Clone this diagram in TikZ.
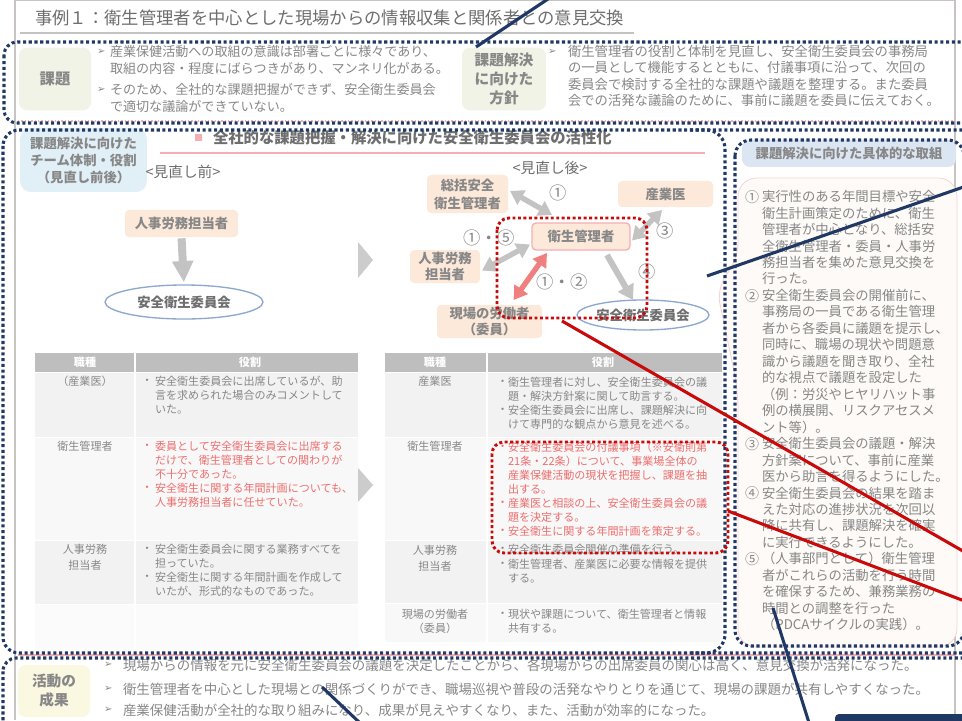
\documentclass[tikz,border=0pt]{standalone}
\usepackage{fontspec}
\setmainfont{Noto Sans CJK JP}
\newfontfamily\dvfont{DejaVu Sans}
\usetikzlibrary{arrows.meta,calc,shapes.geometric}
\definecolor{navy}{RGB}{31,56,100}
\definecolor{annred}{RGB}{200,10,10}
\definecolor{tgray}{RGB}{135,135,135}
\definecolor{dgray}{RGB}{110,110,110}
\definecolor{tred}{RGB}{238,110,110}
\definecolor{peach}{RGB}{252,233,218}
\definecolor{greenbox}{RGB}{240,243,230}
\definecolor{bluebox}{RGB}{225,239,246}
\definecolor{bluehead}{RGB}{220,230,242}
\definecolor{yellowbox}{RGB}{251,248,226}
\definecolor{agray}{RGB}{195,195,195}
\definecolor{apink}{RGB}{240,128,128}
\definecolor{ellstroke}{RGB}{140,168,208}
\definecolor{thead}{RGB}{190,190,190}
\definecolor{rowa}{RGB}{242,242,242}
\definecolor{rowb}{RGB}{248,248,248}
\definecolor{rowc}{RGB}{251,251,251}
\definecolor{pinkline}{RGB}{245,175,180}
\definecolor{panelfill}{RGB}{253,250,247}
\definecolor{panelline}{RGB}{248,210,210}
\definecolor{framec}{RGB}{200,195,195}
\newcommand\jsz[2]{\fontsize{#1}{#2}\selectfont}
\begin{document}
\begin{tikzpicture}[x=0.75pt,y=-0.75pt,
  every node/.style={inner sep=0pt,outer sep=0pt},
  txt/.style={text=tgray,align=left,anchor=north west},
  ndot/.style={navy,line width=2.3pt,dash pattern=on 2.3pt off 2pt},
  rdot/.style={annred,line width=2.2pt,dash pattern=on 2.2pt off 1.9pt},
  nline/.style={navy,line width=2.3pt},
  rline/.style={annred,line width=2.3pt},
  pbox/.style={fill=peach,rounded corners=3pt,text=tgray,font=\bfseries\jsz{10}{12},align=center},
  ell/.style={ellipse,draw=ellstroke,line width=1pt,fill=white,text=dgray,font=\bfseries\jsz{10}{12}},
  garrowd/.style={agray,line width=4pt,{Triangle[length=10pt,width=12pt]}-{Triangle[length=10pt,width=12pt]}},
  garrow/.style={agray,line width=4.5pt,-{Triangle[length=11pt,width=13pt]}},
  parrowd/.style={apink,line width=4pt,{Triangle[length=10pt,width=12pt]}-{Triangle[length=10pt,width=12pt]}},
  bul/.style={anchor=west,text=tgray,font=\jsz{8.3}{10}},
  rbul/.style={anchor=west,text=tred,font=\jsz{8.3}{10}},
  cell/.style={txt,font=\jsz{8.3}{10.5}},
  rcell/.style={txt,text=tred,font=\jsz{8.3}{10.5}},
  lab/.style={anchor=north,text=tgray,align=center,font=\jsz{8.3}{12}},
  arr/.style={anchor=west,text=tgray,font=\dvfont\jsz{7.5}{9}},
  num/.style={text=tgray,font=\jsz{13}{15}},
  pnum/.style={anchor=west,text=tgray,font=\jsz{10.5}{12}}
]
\useasboundingbox (0,0) rectangle (962,720);
\clip (0,0) rectangle (962,720);
\fill[white] (0,0) rectangle (962,720);
% slide frame
\draw[framec,line width=0.8pt] (15,0.5) -- (955,0.5);
\draw[framec,line width=0.8pt] (15,0) -- (15,720);
\draw[framec,line width=0.8pt] (955,0) -- (955,720);

% title
\node[anchor=west,text=dgray,font=\jsz{13}{15}] (title) at (35,18) {事例１：衛生管理者を中心とした現場からの情報収集と関係者との意見交換};
\draw[agray,line width=1.5pt] (20,33) -- (634,33);

% top band
\node[fill=greenbox,rounded corners=6pt,minimum width=54pt,minimum height=47pt,text=tgray,font=\bfseries\jsz{11.5}{13}] (kadai) at (55,79) {課題};
\node[arr] (ka1) at (97,52) {➢};
\node[txt,font=\jsz{9.8}{12.4}] (kt1) at (110,45.5) {産業保健活動への取組の意識は部署ごとに様々であり、\\取組の内容・程度にばらつきがあり、マンネリ化がある。};
\node[arr] (ka2) at (97,90) {➢};
\node[txt,font=\jsz{9.8}{12.4}] (kt2) at (110,83.5) {そのため、全社的な課題把握ができず、安全衛生委員会\\で適切な議論ができていない。};
\node[fill=greenbox,rounded corners=6pt,minimum width=63pt,minimum height=47pt,text=tgray,font=\bfseries\jsz{11}{13.9},align=center] (hoshin) at (504,79) {課題解決\\に向けた\\方針};
\node[arr] (ha1) at (548,52) {➢};
\node[txt,font=\jsz{10}{12.2}] (ht1) at (568,45.3) {衛生管理者の役割と体制を見直し、安全衛生委員会の事務局\\の一員として機能するとともに、付議事項に沿って、次回の\\委員会で検討する全社的な課題や議題を整理する。また委員\\会での活発な議論のために、事前に議題を委員に伝えておく。};
\draw[pinkline,line width=0.8pt,dash pattern=on 1pt off 1.5pt] (18,121) -- (955,121);

% middle: team label and heading
\node[fill=bluebox,rounded corners=8pt,minimum width=95pt,minimum height=48pt,text=tgray,font=\bfseries\jsz{10}{12.75},align=center] (team) at (83.5,160) {課題解決に向けた\\チーム体制・役割\\（見直し前後）};
\fill[pinkline] (194.5,134.5) rectangle (201.5,141.5);
\node[anchor=west,text=dgray,font=\bfseries\jsz{11.5}{13}] (heading) at (213,138) {全社的な課題把握・解決に向けた安全衛生委員会の活性化};
\draw[pinkline,line width=1.2pt] (160,153) -- (705,153);

% before diagram
\node[text=dgray,font=\jsz{11}{13}] (mae) at (183,172) {<見直し前>};
\node[pbox,minimum width=84.75pt,minimum height=20.25pt] (jinji0) at (181.5,223.5) {人事労務担当者};
\node[ell,minimum width=118.5pt,minimum height=25.5pt] (iinkai0) at (184,302) {安全衛生委員会};
\draw[agray,line width=6pt,-{Triangle[length=16pt,width=15pt]},shorten <=1pt,shorten >=2pt] (jinji0.south) -- (iinkai0.north);

% chevrons
\fill[agray!85] (358,242) -- (373,260) -- (358,278) -- cycle;
\fill[agray!85] (358,468) -- (373,485) -- (358,502) -- cycle;

% after diagram
\node[text=dgray,font=\jsz{11}{13}] (ato) at (550,168) {<見直し後>};
\node[pbox,minimum width=60.75pt,minimum height=28.5pt,font=\bfseries\jsz{10}{13.5}] (sokatsu) at (467.5,194) {総括安全\\衛生管理者};
\node[pbox,minimum width=71.25pt,minimum height=19.5pt] (sangyo) at (665.5,194) {産業医};
\node[pbox,draw=pinkline,line width=1pt,minimum width=73.5pt,minimum height=20.25pt] (eisei) at (581,236.5) {衛生管理者};
\node[pbox,minimum width=52.5pt,minimum height=24.75pt,font=\bfseries\jsz{10}{12}] (jinji) at (445,266.5) {人事労務\\担当者};
\node[pbox,minimum width=78.75pt,minimum height=24.75pt,font=\bfseries\jsz{10}{12}] (genba) at (489.5,321.5) {現場の労働者\\（委員）};
\node[ell,minimum width=96pt,minimum height=22.5pt] (iinkai) at (643,315) {安全衛生委員会};
\draw[garrowd] ($(sokatsu.east)+(2,-3)$) -- ($(eisei.north west)+(20,-8)$);
\draw[garrowd] ($(jinji.east)+(2,4)$) -- ($(eisei.west)+(-2,8)$);
\draw[garrowd] ($(eisei.east)+(2,4)$) -- ($(sangyo.south west)+(44,3)$);
\draw[garrow] ($(eisei.south east)+(-23,5)$) -- ($(iinkai.north)+(-10,0)$);
\draw[parrowd] ($(eisei.south west)+(15,3)$) -- ($(genba.north)+(24,-5)$);
\node[num] (n1) at (558,193) {①};
\node[num] (n15) at (489,238) {①・⑤};
\node[num] (n3) at (665,231) {③};
\node[num] (n4) at (647,272) {④};
\node[num] (n12) at (562,282) {①・②};

% left table
\fill[thead] (35,353) rectangle (358,372);
\fill[rowa] (35,373) rectangle (358,437);
\fill[rowb] (35,438) rectangle (358,540);
\fill[rowa] (35,541) rectangle (358,604);
\fill[rowc] (35,605) rectangle (358,650);
\draw[white,line width=1.2pt] (135,353) -- (135,650);
\node[text=white,font=\bfseries\jsz{8.3}{10}] (lh1) at (85,362.5) {職種};
\node[text=white,font=\bfseries\jsz{8.3}{10}] (lh2) at (250,362.5) {役割};
\node[lab] (ll1) at (85,376.5) {（産業医）};
\node[bul] (lb1) at (141.5,382) {・};
\node[cell] (lc1) at (155,376.5) {安全衛生委員会に出席しているが、助\\言を求められた場合のみコメントして\\いた。};
\node[lab] (ll2) at (85,441.5) {衛生管理者};
\node[rbul] (lb2) at (141.5,447) {・};
\node[rcell] (lc2) at (155,441.5) {委員として安全衛生委員会に出席する\\だけで、衛生管理者としての関わりが\\不十分であった。};
\node[rbul] (lb3) at (141.5,489) {・};
\node[rcell] (lc3) at (155,483.5) {安全衛生に関する年間計画についても、\\人事労務担当者に任せていた。};
\node[lab] (ll3) at (85,544.5) {人事労務\\担当者};
\node[bul] (lb4) at (141.5,550) {・};
\node[cell] (lc4) at (155,544.5) {安全衛生委員会に関する業務すべてを\\担っていた。};
\node[bul] (lb5) at (141.5,578) {・};
\node[cell] (lc5) at (155,572.5) {安全衛生に関する年間計画を作成して\\いたが、形式的なものであった。};

% right table
\fill[thead] (385,353) rectangle (722,372);
\fill[rowa] (385,373) rectangle (722,437);
\fill[rowb] (385,438) rectangle (722,540);
\fill[rowa] (385,541) rectangle (722,603);
\fill[rowb] (385,604) rectangle (722,642);
\draw[white,line width=1.2pt] (487,353) -- (487,642);
\node[text=white,font=\bfseries\jsz{8.3}{10}] (rh1) at (435,362.5) {職種};
\node[text=white,font=\bfseries\jsz{8.3}{10}] (rh2) at (603,362.5) {役割};
\node[lab] (rl1) at (435,376.5) {産業医};
\node[bul] (rb1) at (497,383) {・};
\node[cell] (rc1) at (508,377.5) {衛生管理者に対し、安全衛生委員会の議\\題・解決方針案に関して助言する。};
\node[bul] (rb2) at (497,411) {・};
\node[cell] (rc2) at (508,405.5) {安全衛生委員会に出席し、課題解決に向\\けて専門的な観点から意見を述べる。};
\node[lab] (rl2) at (435,441.5) {衛生管理者};
\node[rbul] (rb3) at (497,448) {・};
\node[rcell] (rc3) at (508,442.5) {安全衛生委員会の付議事項（※安衛則第\\21条・22条）について、事業場全体の\\産業保健活動の現状を把握し、課題を抽\\出する。};
\node[rbul] (rb4) at (497,504) {・};
\node[rcell] (rc4) at (508,498.5) {産業医と相談の上、安全衛生委員会の議\\題を決定する。};
\node[rbul] (rb5) at (497,532) {・};
\node[rcell] (rc5) at (508,526.5) {安全衛生に関する年間計画を策定する。};
\node[lab] (rl3) at (435,545.5) {人事労務\\担当者};
\node[bul] (rb6) at (497,550) {・};
\node[cell] (rc6) at (508,544.5) {安全衛生委員会開催の準備を行う。};
\node[bul] (rb7) at (497,565) {・};
\node[cell] (rc7) at (508,559.5) {衛生管理者、産業医に必要な情報を提供\\する。};
\node[lab,font=\jsz{8.3}{10.5}] (rl4) at (435,609.5) {現場の労働者\\（委員）};
\node[bul] (rb8) at (497,615) {・};
\node[cell] (rc8) at (508,609.5) {現状や課題について、衛生管理者と情報\\共有する。};

% right panel
\node[fill=bluehead,rounded corners=6pt,minimum width=160.5pt,minimum height=20.25pt,text=tgray,font=\bfseries\jsz{10}{12}] (gutai) at (849,153.5) {課題解決に向けた具体的な取組};
\draw[panelline,fill=panelfill,line width=0.6pt,rounded corners=14pt] (738,178) -- (957,178) -- (957,647) -- (738,647) -- (738,390) -- (716,285) -- (738,262) -- cycle;
\node[pnum] (p1) at (745,197) {①};
\node[pnum] (p2) at (745,295.8) {②};
\node[pnum] (p3) at (745,443.9) {③};
\node[pnum] (p4) at (745,493.3) {④};
\node[pnum] (p5) at (745,559.1) {⑤};
\node[txt,font=\jsz{10}{12.35}] (ptext) at (762,190.35) {実行性のある年間目標や安全\\衛生計画策定のために、衛生\\管理者が中心となり、総括安\\全衛生管理者・委員・人事労\\務担当者を集めた意見交換を\\行った。\\安全衛生委員会の開催前に、\\事務局の一員である衛生管理\\者から各委員に議題を提示し、\\同時に、職場の現状や問題意\\識から議題を聞き取り、全社\\的な視点で議題を設定した\\（例：労災やヒヤリハット事\\例の横展開、リスクアセスメ\\ント等）。\\安全衛生委員会の議題・解決\\方針案について、事前に産業\\医から助言を得るようにした。\\安全衛生委員会の結果を踏ま\\えた対応の進捗状況を次回以\\降に共有し、課題解決を確実\\に実行できるようにした。\\（人事部門として）衛生管理\\者がこれらの活動を行う時間\\を確保するため、兼務業務の\\時間との調整を行った\\（PDCAサイクルの実践）。};

% bottom band
\draw[pinkline,line width=0.8pt] (18,655) -- (955,655);
\node[fill=yellowbox,rounded corners=6pt,minimum width=54pt,minimum height=39pt,text=tgray,font=\bfseries\jsz{11}{14.25},align=center] (seika) at (54,691) {活動の\\成果};
\node[arr] (sa1) at (104,665) {➢};
\node[anchor=west,text=tgray,font=\jsz{10.1}{12}] (st1) at (123,665) {現場からの情報を元に安全衛生委員会の議題を決定したことから、各現場からの出席委員の関心は高く、意見交換が活発になった。};
\node[arr] (sa2) at (104,689) {➢};
\node[anchor=west,text=tgray,font=\jsz{10.1}{12}] (st2) at (123,689) {衛生管理者を中心とした現場との関係づくりができ、職場巡視や普段の活発なやりとりを通じて、現場の課題が共有しやすくなった。};
\node[arr] (sa3) at (104,710) {➢};
\node[anchor=west,text=tgray,font=\jsz{10.1}{12}] (st3) at (123,710) {産業保健活動が全社的な取り組みになり、成果が見えやすくなり、また、活動が効率的になった。};

% navy dotted annotation frames
\draw[ndot,rounded corners=10pt] (4,42) rectangle (990,123);
\draw[ndot,rounded corners=12pt] (3,130) rectangle (990,653);
\draw[ndot,rounded corners=14pt] (690,130) -- (725,130) -- (725,653) -- (690,653);
\draw[ndot,rounded corners=12pt] (735,140) rectangle (964,646);
\draw[ndot,rounded corners=10pt] (3,658) rectangle (990,740);

% red dotted frames
\draw[rdot,rounded corners=9pt] (497,218) rectangle (647,318);
\draw[rdot,rounded corners=9pt] (492,442) rectangle (728,553);

% annotation lines
\coordinate (r1a) at (562,321); \coordinate (r1b) at (975,558);
\coordinate (r2a) at (728,511); \coordinate (r2b) at (975,605);
\draw[rline] (r1a) -- (r1b);
\draw[rline] (r2a) -- (r2b);
\coordinate (n1a) at (476,47); \coordinate (n1b) at (548,-1);
\coordinate (n2a) at (707,276); \coordinate (n2b) at (975,183);
\coordinate (n3a) at (322,687); \coordinate (n3b) at (360,723);
\coordinate (n4a) at (773,608); \coordinate (n4b) at (810,726);
\draw[nline] (n1a) -- (n1b);
\draw[nline] (n2a) -- (n2b);
\draw[nline] (n3a) -- (n3b);
\draw[nline] (n4a) -- (n4b);
\fill[navy,rounded corners=3pt] (835,714) rectangle (980,740);
\end{tikzpicture}
\end{document}
